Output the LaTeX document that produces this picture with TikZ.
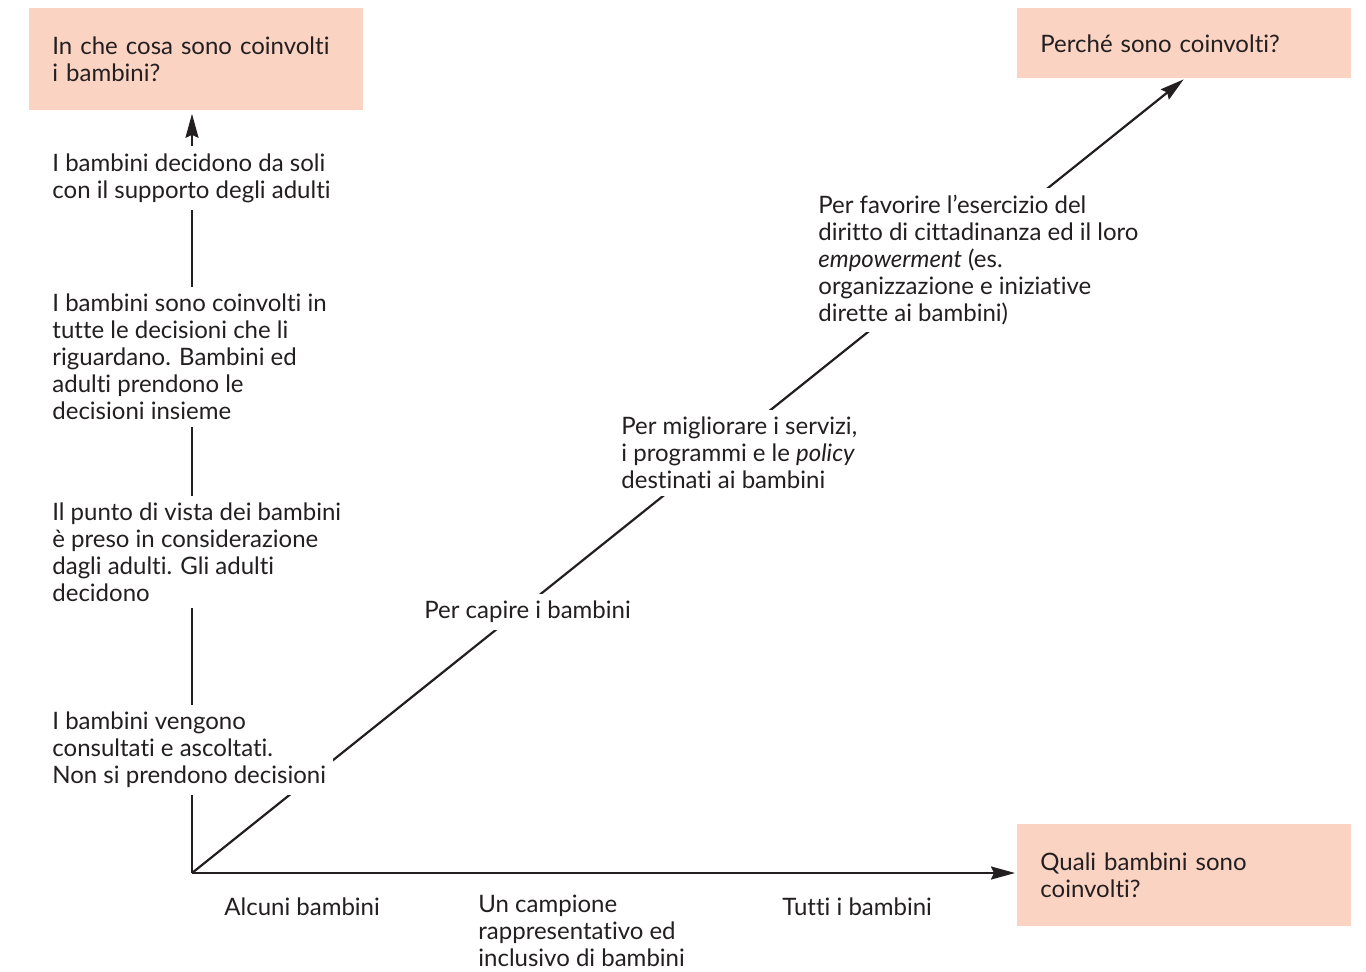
\documentclass[tikz,border=0pt]{standalone}
\usepackage{fontspec}
\setmainfont{Lato}[Ligatures=NoCommon]
\usepackage{xcolor}
\usepackage{tikz}
\usetikzlibrary{arrows.meta, positioning}
\definecolor{peach}{HTML}{FBD3C2}
\definecolor{ink}{HTML}{231F20}

\tikzset{
  qbox/.style={fill=peach, text=ink, anchor=north west, align=left, text width=144pt,
    minimum width=167pt, inner xsep=11.5pt, inner ysep=0pt},
  lbl/.style={fill=white, text=ink, anchor=west, align=left, inner sep=3.5pt},
  axis/.style={draw=ink, line width=1.1pt, -{Stealth[length=12pt, width=6.5pt, inset=1.5pt]}}
}

\begin{document}
\begin{tikzpicture}[x=0.5pt, y=-0.5pt, font=\fontsize{12}{13.5}\selectfont]
  \useasboundingbox (0,0) rectangle (1366,971);

  % Domande
  \node[qbox, minimum height=51pt] (cosa) at (29,8) {In che cosa sono coinvolti\\i bambini?};
  \node[qbox, minimum height=35pt] (perche) at (1017,8) {Perché sono coinvolti?};
  \node[qbox, minimum height=51pt] (quali) at (1017,824) {Quali bambini sono\\coinvolti?};

  % Assi
  \coordinate (o) at (192,873);
  \draw[axis, shorten >=1.5pt] (o) -- (o |- cosa.south);
  \draw[axis, shorten >=1pt] (o) -- (o -| quali.west);
  \draw[axis, shorten >=0.5pt] (o) -- (perche.south);

  % Livelli (asse verticale)
  \node[lbl] (liv4) at (45,178) {I bambini decidono da soli\\con il supporto degli adulti};
  \node[lbl] (liv3) at (45,357) {I bambini sono coinvolti in\\tutte le decisioni che li\\riguardano. Bambini ed\\adulti prendono le\\decisioni insieme};
  \node[lbl] (liv2) at (45,552) {Il punto di vista dei bambini\\è preso in considerazione\\dagli adulti. Gli adulti\\decidono};
  \node[lbl] (liv1) at (45,750) {I bambini vengono\\consultati e ascoltati.\\Non si prendono decisioni};

  % Scopi (diagonale)
  \node[lbl] (sco1) at (417,612) {Per capire i bambini};
  \node[lbl] (sco2) at (614,453) {Per migliorare i servizi,\\i programmi e le \textit{policy}\\destinati ai bambini};
  \node[lbl] (sco3) at (811,260) {Per favorire l’esercizio del\\diritto di cittadinanza ed il loro\\\textit{empowerment} (es.\\organizzazione e iniziative\\dirette ai bambini)};

  % Chi (asse orizzontale)
  \node[lbl] (chi1) at (217,907) {Alcuni bambini};
  \node[lbl] (chi2) at (471,931) {Un campione\\rappresentativo ed\\inclusivo di bambini};
  \node[lbl] (chi3) at (775,907) {Tutti i bambini};
\end{tikzpicture}
\end{document}
